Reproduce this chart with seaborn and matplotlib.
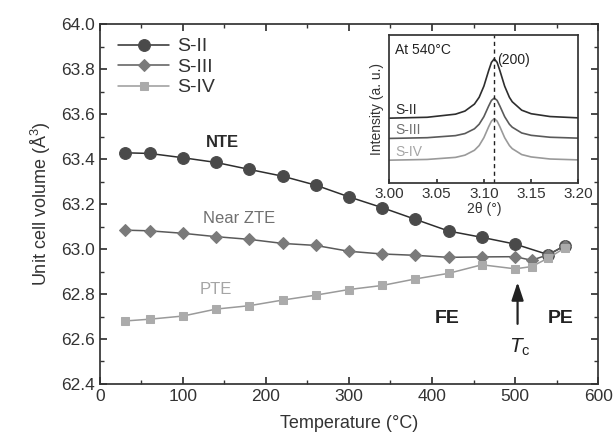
import numpy as np
import pandas as pd
import matplotlib
matplotlib.use("Agg")
import matplotlib.pyplot as plt
import seaborn as sns
from matplotlib.ticker import MultipleLocator

# ---------------- data ----------------
temps_s2 = [30, 60, 100, 140, 180, 220, 260, 300, 340, 380, 420, 460, 500, 540, 560]
vol_s2 = [63.428, 63.425, 63.406, 63.385, 63.354, 63.324, 63.284, 63.232, 63.184,
          63.132, 63.080, 63.052, 63.022, 62.975, 63.015]

temps_s3 = [30, 60, 100, 140, 180, 220, 260, 300, 340, 380, 420, 460, 500, 520, 540, 560]
vol_s3 = [63.084, 63.081, 63.070, 63.055, 63.043, 63.025, 63.016, 62.990, 62.978,
          62.972, 62.963, 62.965, 62.966, 62.950, 62.975, 63.015]

temps_s4 = [30, 60, 100, 140, 180, 220, 260, 300, 340, 380, 420, 460, 500, 520, 540, 560]
vol_s4 = [62.680, 62.688, 62.702, 62.733, 62.748, 62.773, 62.795, 62.820, 62.838,
          62.867, 62.892, 62.930, 62.912, 62.922, 62.960, 63.005]

# inset: (200) peak at 540 C, normalised intensity
two_theta = [3.00, 3.04, 3.07, 3.08, 3.09, 3.095, 3.10, 3.105, 3.108, 3.111,
             3.114, 3.117, 3.122, 3.127, 3.13, 3.14, 3.15, 3.17, 3.20]
int_s2 = [0.437, 0.443, 0.464, 0.485, 0.532, 0.578, 0.653, 0.757, 0.814, 0.838,
          0.814, 0.757, 0.653, 0.578, 0.548, 0.491, 0.467, 0.448, 0.439]
int_s3 = [0.300, 0.305, 0.319, 0.333, 0.365, 0.396, 0.447, 0.518, 0.557, 0.573,
          0.557, 0.518, 0.447, 0.396, 0.376, 0.337, 0.321, 0.308, 0.302]
int_s4 = [0.153, 0.158, 0.172, 0.187, 0.220, 0.252, 0.305, 0.378, 0.417, 0.434,
          0.417, 0.378, 0.305, 0.252, 0.231, 0.191, 0.175, 0.161, 0.155]
peak_pos = 3.111

labels = ["S-II", "S-III", "S-IV"]

# ---------------- style ----------------
sns.set_theme(style="ticks")
plt.rcParams["font.family"] = ["Liberation Sans", "DejaVu Sans"]
plt.rcParams["mathtext.fontset"] = "custom"
plt.rcParams["mathtext.it"] = "Liberation Sans:italic"
plt.rcParams["mathtext.rm"] = "Liberation Sans"

line_cols = ["#2e2e2e", "#5a5a5a", "#9a9a9a"]
face_cols = ["#4a4a4a", "#7a7a7a", "#ababab"]
text_cols = ["#2a2a2a", "#707070", "#a5a5a5"]

fig = plt.figure(figsize=(6.16, 4.47), dpi=100)
ax = fig.add_axes([0.162, 0.141, 0.809, 0.805])

series = [(temps_s2, vol_s2, "o", 8.5), (temps_s3, vol_s3, "D", 6.5), (temps_s4, vol_s4, "s", 6)]
for i, (t, v, mk, ms) in enumerate(series):
    sns.lineplot(x=t, y=v, ax=ax, color=line_cols[i], lw=1.1, marker=mk, markersize=ms,
                 markerfacecolor=face_cols[i], markeredgecolor=face_cols[i],
                 label=labels[i], sort=False, estimator=None)

ax.set_xlim(0, 600)
ax.set_ylim(62.4, 64.0)
ax.xaxis.set_major_locator(MultipleLocator(100))
ax.xaxis.set_minor_locator(MultipleLocator(50))
ax.yaxis.set_major_locator(MultipleLocator(0.2))
ax.yaxis.set_minor_locator(MultipleLocator(0.1))
ax.yaxis.set_major_formatter(matplotlib.ticker.FormatStrFormatter("%.1f"))
ax.tick_params(which="both", direction="in", top=True, right=True, labelsize=12.5,
               colors="#333333")
ax.tick_params(which="major", length=5)
ax.tick_params(which="minor", length=3)
for sp in ax.spines.values():
    sp.set_color("#333333")
ax.set_xlabel("Temperature (\u00b0C)", fontsize=13, color="#333333", labelpad=8)
ax.set_ylabel("Unit cell volume (\u00c5$^3$)", fontsize=13, color="#333333", labelpad=6)

leg = ax.legend(loc="upper left", frameon=False, fontsize=14, handlelength=2.6,
                borderaxespad=0.3, labelspacing=0.15, handletextpad=0.4,
                bbox_to_anchor=(0.01, 1.0))
for txt in leg.get_texts():
    txt.set_color("#333333")

# annotations
ax.text(148, 63.475, "NTE", fontsize=12, fontweight="bold", color=text_cols[0], ha="center", va="center")
ax.text(168, 63.136, "Near ZTE", fontsize=12, color=text_cols[1], ha="center", va="center")
ax.text(140, 62.82, "PTE", fontsize=12, color=text_cols[2], ha="center", va="center")
ax.text(418, 62.69, "FE", fontsize=14, fontweight="bold", color="#222222", ha="center", va="center")
ax.text(555, 62.69, "PE", fontsize=14, fontweight="bold", color="#222222", ha="center", va="center")
ax.text(506, 62.565, "$T_{\\mathrm{c}}$", fontsize=15, color="#222222", ha="center", va="center")
ax.annotate("", xy=(503, 62.865), xytext=(503, 62.655),
            arrowprops=dict(arrowstyle="-|>,head_length=0.9,head_width=0.3", color="#222222", lw=1.6))

# ---------------- inset ----------------
ins = fig.add_axes([0.632, 0.591, 0.307, 0.331])
for i, yy in enumerate([int_s2, int_s3, int_s4]):
    sns.lineplot(x=two_theta, y=yy, ax=ins, color=line_cols[i], lw=1.2, sort=False, estimator=None)
ins.axvline(peak_pos, color="#222222", lw=1, ls=(0, (3, 2.5)))
ins.set_xlim(3.00, 3.20)
ins.set_ylim(0, 1)
ins.set_yticks([])
ins.xaxis.set_major_locator(MultipleLocator(0.05))
ins.xaxis.set_major_formatter(matplotlib.ticker.FormatStrFormatter("%.2f"))
ins.tick_params(axis="x", direction="in", length=3, labelsize=11, pad=3, colors="#333333")
for sp in ins.spines.values():
    sp.set_color("#333333")
ins.set_xlabel("2\u03b8 (\u00b0)", fontsize=10, labelpad=1, color="#333333")
ins.set_ylabel("Intensity (a. u.)", fontsize=10, labelpad=4, color="#333333")
ins.text(3.006, 0.895, "At 540\u00b0C", fontsize=10, color="#222222", va="center")
ins.text(3.114, 0.83, "(200)", fontsize=10, color="#222222", va="center")
for i, yl in enumerate([0.49, 0.36, 0.21]):
    ins.text(3.006, yl, labels[i], fontsize=10, color=text_cols[i], va="center")

fig.savefig("out.png", dpi=100)
